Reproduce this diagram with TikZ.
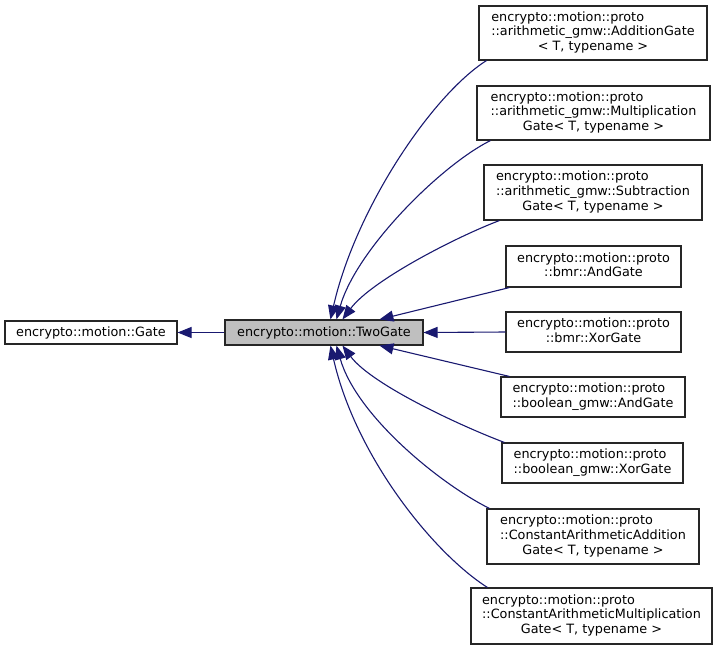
\documentclass[tikz,border=0pt]{standalone}
\usepackage{fontspec}
\setmainfont{DejaVu Sans}
\usepackage{xcolor}
\usepackage{tikz}
\usetikzlibrary{arrows.meta}

\definecolor{midnight}{RGB}{25,25,112}
\newcommand{\lastrow}[1]{\multicolumn{1}{@{}c@{}}{#1}}
\renewcommand{\arraystretch}{1}

\begin{document}
\begin{tikzpicture}[x=1pt, y=-1pt,
							every node/.style={draw=black!85,line width=1.1pt,inner sep=0pt,
								font=\fontsize{12.8}{14.7}\selectfont},
							base/.style={fill=white},
							current/.style={fill=black!25},
							inherit/.style={draw=midnight,line width=1.1pt,
								-{Triangle[length=14pt,width=11pt]}}]
			\useasboundingbox (0,0) rectangle (721,649);
			% the two upper classes
			\node[base, minimum width=172pt, minimum height=23pt] (gate) at (91,332.5) {encrypto::motion::Gate};
			\node[current, minimum width=198pt, minimum height=25pt] (twogate) at (324,332.5) {encrypto::motion::TwoGate};
			% derived gates
			\node[base, minimum width=228pt, minimum height=54pt] (add) at (593,33)
				{\begin{tabular}{@{}l@{}}encrypto::motion::proto\\::arithmetic\_gmw::AdditionGate\\\lastrow{< T, typename >}\end{tabular}};
			\node[base, minimum width=233pt, minimum height=54pt] (mul) at (593.5,113)
				{\begin{tabular}{@{}l@{}}encrypto::motion::proto\\::arithmetic\_gmw::Multiplication\\\lastrow{Gate< T, typename >}\end{tabular}};
			\node[base, minimum width=218pt, minimum height=55pt] (sub) at (593,192.5)
				{\begin{tabular}{@{}l@{}}encrypto::motion::proto\\::arithmetic\_gmw::Subtraction\\\lastrow{Gate< T, typename >}\end{tabular}};
			\node[base, minimum width=175pt, minimum height=41pt] (bmrand) at (593.5,266.5)
				{\begin{tabular}{@{}l@{}}encrypto::motion::proto\\\lastrow{::bmr::AndGate}\end{tabular}};
			\node[base, minimum width=175pt, minimum height=40pt] (bmrxor) at (593.5,332)
				{\begin{tabular}{@{}l@{}}encrypto::motion::proto\\\lastrow{::bmr::XorGate}\end{tabular}};
			\node[base, minimum width=184pt, minimum height=40pt] (booland) at (593,397)
				{\begin{tabular}{@{}l@{}}encrypto::motion::proto\\\lastrow{::boolean\_gmw::AndGate}\end{tabular}};
			\node[base, minimum width=181pt, minimum height=40pt] (boolxor) at (592.5,463)
				{\begin{tabular}{@{}l@{}}encrypto::motion::proto\\\lastrow{::boolean\_gmw::XorGate}\end{tabular}};
			\node[base, minimum width=212pt, minimum height=55pt] (cadd) at (593,536.5)
				{\begin{tabular}{@{}l@{}}encrypto::motion::proto\\::ConstantArithmeticAddition\\\lastrow{Gate< T, typename >}\end{tabular}};
			\node[base, minimum width=241pt, minimum height=56pt] (cmul) at (591.5,616)
				{\begin{tabular}{@{}l@{}}encrypto::motion::proto\\::ConstantArithmeticMultiplication\\\lastrow{Gate< T, typename >}\end{tabular}};
			% inheritance
			\draw[inherit] (twogate.west) -- (gate.east);
			\draw[inherit] ([xshift=8pt]add.south west) .. controls +(-55,35) and +(25,-110) .. ([xshift=106pt]twogate.north west);
			\draw[inherit] ([xshift=14pt]mul.south west) .. controls +(-50,25) and +(20,-70) .. ([xshift=112pt]twogate.north west);
			\draw[inherit] ([xshift=16pt]sub.south west) .. controls +(-40,15) and +(30,-40) .. ([xshift=118pt]twogate.north west);
			\draw[inherit] ([xshift=4pt]bmrand.south west) -- ([xshift=155pt]twogate.north west);
			\draw[inherit] (bmrxor.west) -- (twogate.east);
			\draw[inherit] ([xshift=9pt]booland.north west) -- ([xshift=155pt]twogate.south west);
			\draw[inherit] ([xshift=3pt]boolxor.north west) .. controls +(-40,-15) and +(30,40) .. ([xshift=118pt]twogate.south west);
			\draw[inherit] ([xshift=3pt]cadd.north west) .. controls +(-50,-25) and +(20,70) .. ([xshift=112pt]twogate.south west);
			\draw[inherit] ([xshift=17pt]cmul.north west) .. controls +(-55,-35) and +(25,110) .. ([xshift=106pt]twogate.south west);
		\end{tikzpicture}
\end{document}
